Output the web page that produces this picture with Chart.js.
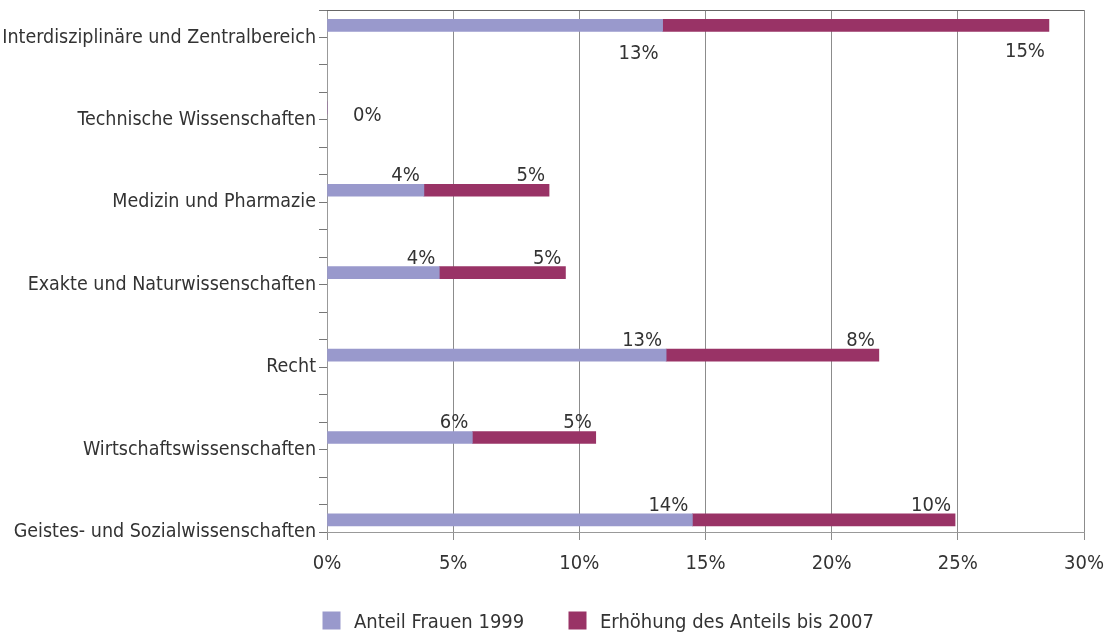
<!DOCTYPE html>
<html>
<head>
<meta charset="utf-8">
<script src="https://cdn.jsdelivr.net/npm/chart.js@4.4.1/dist/chart.umd.min.js"></script>
<style>
  html, body { margin: 0; padding: 0; background: #ffffff; }
  #wrap { width: 1108px; height: 637px; position: relative; }
</style>
</head>
<body>
<div id="wrap"><canvas id="c" width="1108" height="637"></canvas></div>
<script>
const categories = [
  'Interdisziplinäre und Zentralbereich',
  'Technische Wissenschaften',
  'Medizin und Pharmazie',
  'Exakte und Naturwissenschaften',
  'Recht',
  'Wirtschaftswissenschaften',
  'Geistes- und Sozialwissenschaften'
];
const anteil1999 = [13.3, 0, 3.84, 4.45, 13.44, 5.76, 14.48];
const erhoehung2007 = [15.31, 0, 4.96, 5.0, 8.43, 4.89, 10.41];
const seriesNames = ['Anteil Frauen 1999', 'Erhöhung des Anteils bis 2007'];
const xTickValues = [0, 5, 10, 15, 20, 25, 30];

const FONT = '"Liberation Sans Narrow", "DejaVu Sans Condensed", "Arial Narrow", sans-serif';
const TEXT = '#333333';
const colors = ['#9999cc', '#993366'];
const FS = 20;

// category i sits at tick 3*i+1 on the index scale; bars sit slightly above the tick
const tickPos = i => 3 * i + 1;
const barPos = i => tickPos(i) - 0.44;

const datasets = [anteil1999, erhoehung2007].map((vals, k) => ({
  label: seriesNames[k],
  data: vals.map((v, i) => ({ x: v, y: barPos(i) })),
  backgroundColor: colors[k],
  borderWidth: 0,
  barThickness: 12
}));

const labelPlugin = {
  id: 'valueLabels',
  afterDatasetsDraw(chart) {
    const ctx = chart.ctx;
    const xs = chart.scales.x;
    ctx.save();
    ctx.font = FS + 'px ' + FONT;
    ctx.fillStyle = TEXT;
    ctx.textBaseline = 'alphabetic';
    categories.forEach((c, i) => {
      const total = anteil1999[i] + erhoehung2007[i];
      if (total === 0) {
        const yT = chart.scales.y.getPixelForValue(tickPos(i));
        ctx.textAlign = 'left';
        ctx.fillText('0%', xs.getPixelForValue(0) + 26, yT + 1);
        return;
      }
      [anteil1999, erhoehung2007].forEach((vals, k) => {
        const bar = chart.getDatasetMeta(k).data[i];
        const txt = Math.round(vals[i]) + '%';
        const top = bar.y - 6, bottom = bar.y + 6;
        ctx.textAlign = 'right';
        let y;
        if (i === 0) y = bottom + (k === 0 ? 28 : 26);
        else y = top - 3;
        ctx.fillText(txt, bar.x - 4, y);
      });
    });
    ctx.restore();
  }
};

const framePlugin = {
  id: 'frameAndLegend',
  afterDraw(chart) {
    const ctx = chart.ctx;
    const a = chart.chartArea;
    ctx.save();
    ctx.strokeStyle = '#666666';
    ctx.lineWidth = 1;
    ctx.beginPath();
    ctx.moveTo(a.left, Math.round(a.top) + 0.5);
    ctx.lineTo(a.right, Math.round(a.top) + 0.5);
    ctx.stroke();
    // legend
    const items = [{ x: 322.5 }, { x: 568.5 }];
    ctx.font = FS + 'px ' + FONT;
    ctx.textBaseline = 'alphabetic';
    ctx.textAlign = 'left';
    items.forEach((it, k) => {
      ctx.fillStyle = colors[k];
      ctx.fillRect(it.x, 611.5, 18, 18);
      ctx.fillStyle = TEXT;
      ctx.fillText(seriesNames[k], it.x + 31.5, 628);
    });
    ctx.restore();
  }
};

new Chart(document.getElementById('c'), {
  type: 'bar',
  data: { datasets },
  options: {
    indexAxis: 'y',
    responsive: false,
    animation: false,
    devicePixelRatio: 1,
    layout: { padding: { top: 10, right: 24, bottom: 0, left: 0 } },
    plugins: { legend: { display: false }, tooltip: { enabled: false } },
    scales: {
      x: {
        type: 'linear',
        stacked: true,
        min: 0, max: 30,
        afterBuildTicks(s) { s.ticks = xTickValues.map(v => ({ value: v })); },
        ticks: {
          callback: v => v + '%',
          font: { family: FONT, size: FS },
          color: TEXT,
          padding: 12,
          maxRotation: 0
        },
        grid: { color: '#8c8c8c', lineWidth: 1, tickLength: 8, drawTicks: true },
        border: { color: '#999999' },
        afterFit(s) { s.height = 105; s.paddingLeft = 0; s.paddingRight = 0; }
      },
      y: {
        type: 'linear',
        stacked: true,
        reverse: true,
        offset: false,
        min: 0, max: 19,
        ticks: {
          stepSize: 1,
          autoSkip: false,
          callback: v => (v % 3 === 1 ? categories[(v - 1) / 3] : ''),
          font: { family: FONT, size: 19.5 },
          color: TEXT,
          padding: 3
        },
        grid: { offset: false, drawOnChartArea: false, drawTicks: true, tickLength: 8, color: '#777777' },
        border: { color: '#999999' },
        afterFit(s) { s.width = 327; s.paddingTop = 0; s.paddingBottom = 0; }
      }
    }
  },
  plugins: [labelPlugin, framePlugin]
});
</script>
</body>
</html>
